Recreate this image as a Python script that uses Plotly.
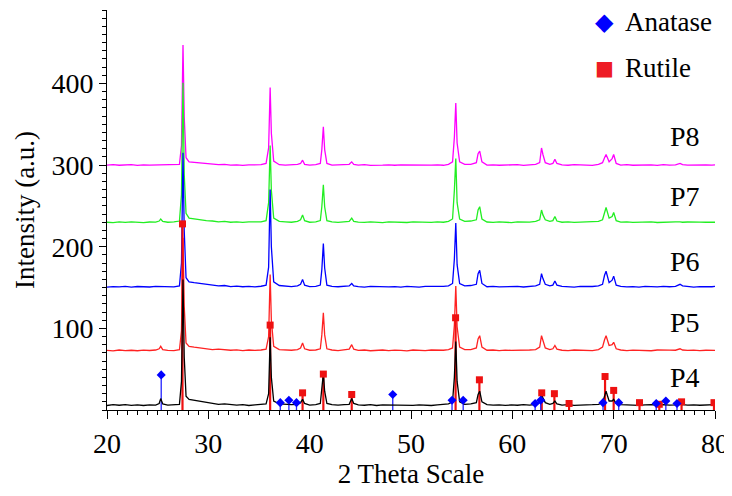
import plotly.graph_objects as go

# shared 2-theta grid (deg)
two_theta = [
    20.0, 20.6, 21.2, 21.8, 22.4, 23.0, 23.6, 24.2, 24.8,
    25.15, 25.3, 25.5,
    26.0, 26.6, 27.15,
    27.35, 27.5, 27.62, 27.8,
    28.1, 28.6, 29.2, 29.8, 30.4, 31.0, 31.6, 32.2, 32.8, 33.4, 34.0, 34.6, 35.2, 35.7,
    35.95, 36.1, 36.22, 36.45,
    37.0, 37.6, 38.2, 38.8,
    39.1, 39.3, 39.5,
    40.0, 40.6, 41.05,
    41.2, 41.35, 41.48, 41.7,
    42.2, 42.8, 43.4, 43.9,
    44.15, 44.35,
    44.8, 45.4, 46.0, 46.6, 47.2, 47.8, 48.4, 49.0, 49.6, 50.2, 50.8, 51.4, 52.0, 52.6, 53.2, 53.7, 54.1,
    54.28, 54.42, 54.55, 54.8,
    55.3, 55.9, 56.45,
    56.62, 56.78, 57.0,
    57.5, 58.1, 58.7, 59.3, 59.9, 60.5, 61.1, 61.7, 62.3, 62.7,
    62.88, 63.02, 63.25,
    63.7, 64.0,
    64.2, 64.4,
    64.9, 65.5, 66.1, 66.7, 67.3, 67.9, 68.5, 68.9,
    69.1, 69.25, 69.55,
    69.85, 70.0, 70.25,
    70.7, 71.3, 71.9, 72.5, 73.1, 73.7, 74.3, 74.9, 75.5, 76.1,
    76.55, 76.8,
    77.3, 77.9, 78.5, 79.1, 79.7, 80.0,
]

# intensities above each pattern's own baseline
p4 = [
    0.5, 1.5, 0.8, 1.6, 0.7, 1.2, 0.5, 1.4, 1.0,
    3, 9, 2.5,
    1.0, 1.5, 2.0,
    30, 155, 60, 12,
    8, 7, 5.5, 4.5, 3, 2, 2.5, 1.5, 1, 1.5, 0.5, 1.2, 1.5, 2.5,
    15, 84, 35, 6,
    2.5, 2, 1.5, 2,
    4, 8, 3,
    1, 1.5, 3,
    18, 40, 18, 3,
    1.5, 1, 1.5, 2,
    9, 3,
    1.2, 0.8, 1.5, 0.5, 1.2, 1, 1.6, 0.8, 1.2, 0.6, 1.4, 1, 0.5, 1.2, 1.6, 2.5, 5,
    35, 79, 30, 5,
    2, 2.5, 4,
    14, 18, 5,
    1.5, 1, 1.4, 0.6, 1.2, 0.8, 1.5, 1, 2, 4,
    14, 10, 4,
    2, 3,
    6, 2.5,
    1, 1.5, 0.6, 1.2, 1, 1.5, 2, 4,
    12, 18, 6,
    6, 8, 3,
    1.5, 1, 1.3, 0.7, 1.2, 1.5, 0.8, 1.6, 1, 1.3,
    2.5, 1.5,
    1, 1.4, 0.8, 1.2, 1, 1.5,
]
p5 = [
    1, 0.5, 1.5, 0.8, 1.2, 0.6, 1.4, 0.9, 1.5,
    3, 6, 2,
    1, 0.8, 1.8,
    25, 139, 55, 10,
    6, 5, 4, 3, 2, 2.5, 1.5, 1.2, 1.6, 0.8, 1.5, 1, 1.5, 2.5,
    18, 94, 38, 6,
    2, 1.5, 1.2, 2,
    4, 10, 3,
    1.2, 1.5, 3,
    20, 47, 20, 3,
    1.5, 0.8, 1.4, 2.5,
    8, 2.5,
    1, 1.5, 0.6, 1.2, 1.5, 0.8, 1.4, 1, 0.5, 1.5, 1.1, 0.7, 1.5, 1, 1.2, 2, 4,
    32, 80, 30, 5,
    2, 2, 4,
    15, 19, 5,
    1.2, 1.5, 0.8, 1.4, 1, 1.2, 0.6, 1.5, 2, 5,
    19, 12, 4,
    2, 3,
    7, 2.5,
    1.2, 0.8, 1.5, 1, 1.4, 0.8, 2, 5,
    14, 19, 7,
    8, 11, 3,
    1.5, 0.8, 1.4, 1, 1.2, 0.6, 1.5, 1, 1.4, 1.2,
    3, 1.5,
    1, 1.4, 0.8, 1.2, 1.5, 1,
]
p6 = [
    0.5, 1.2, 0.8, 1.5, 0.6, 1.3, 1, 0.7, 1.4,
    1.2, 1.5, 1,
    1.5, 0.8, 2,
    30, 165, 70, 12,
    7, 6, 5, 4, 3, 2, 2.5, 1.2, 1.8, 1, 1.5, 0.8, 1.6, 3,
    25, 120, 50, 7,
    2.5, 1.5, 1.2, 2,
    4, 10, 3,
    1.2, 1.5, 3,
    22, 54, 24, 3,
    1.5, 1, 1.6, 2,
    5, 2,
    1.2, 0.6, 1.4, 1, 1.5, 0.8, 1.2, 0.5, 1.4, 1, 0.6, 1.5, 1.2, 0.8, 1.4, 2, 5,
    35, 79, 28, 5,
    2, 2.5, 4,
    17, 21, 5,
    1, 1.5, 0.8, 1.3, 1, 1.5, 0.7, 1.2, 2, 4,
    17, 11, 4,
    2, 3,
    8, 3,
    1.4, 1, 0.6, 1.5, 1, 1.3, 2, 4,
    15, 20, 6,
    9, 14, 3,
    1.5, 0.8, 1.2, 0.5, 1.4, 1, 0.8, 1.5, 1, 1.5,
    4, 2,
    1, 0.6, 1.2, 0.8, 1, 1.5,
]
p7 = [
    1, 0.6, 1.4, 0.8, 1.5, 1, 0.5, 1.3, 1.2,
    2.5, 5, 2,
    1, 1.5, 2.5,
    35, 172, 60, 12,
    6, 5, 4, 3, 2.5, 1.5, 2, 1, 1.5, 0.8, 1.4, 1, 1.5, 3,
    25, 95, 40, 6,
    2, 1.5, 1, 2,
    4, 10, 3,
    1, 1.5, 3,
    20, 47, 20, 3,
    1.5, 0.8, 1.2, 2,
    6, 2,
    1.2, 0.8, 1.5, 1, 0.6, 1.4, 1, 1.3, 0.7, 1.5, 1, 1.2, 0.8, 1.5, 1, 2, 5,
    40, 79, 25, 5,
    2, 2.5, 4,
    16, 20, 5,
    1.3, 0.8, 1.5, 1, 0.6, 1.4, 1, 1.2, 2, 4,
    16, 10, 4,
    2, 3,
    8, 2.5,
    1, 1.4, 0.8, 1.2, 1.5, 1, 2, 4,
    14, 19, 6,
    8, 13, 3,
    1.2, 1.5, 0.8, 1.3, 1, 1.4, 0.7, 1.2, 1, 1.5,
    1.5, 1,
    1.3, 0.8, 1.2, 1, 1.4, 1,
]
p8 = [
    1, 1.5, 0.8, 1.2, 1.5, 0.6, 1.4, 1, 1.2,
    1.2, 1.5, 1,
    1, 1.4, 2,
    25, 148, 60, 10,
    5, 4.5, 3.5, 3, 2, 1.5, 2, 1, 1.4, 0.6, 1.2, 1, 1.5, 3,
    22, 96, 40, 6,
    1.5, 1, 1.2, 2,
    3, 7, 2,
    1, 1.5, 3,
    20, 48, 20, 3,
    1, 1.5, 1.2, 2,
    5, 2,
    1, 1.5, 0.6, 1.2, 1, 1.4, 0.8, 1.2, 1, 1.5, 0.7, 1.2, 1, 1.4, 0.8, 2, 5,
    35, 77, 28, 5,
    2, 2, 4,
    15, 18, 5,
    1, 1.4, 0.8, 1.2, 1, 1.5, 0.6, 1.2, 2, 4,
    22, 14, 4,
    2, 3,
    8, 3,
    1.2, 0.8, 1.5, 1, 1.2, 0.6, 2, 4,
    10, 14, 5,
    9, 14, 3,
    1, 1.5, 0.8, 1.2, 1, 1.3, 0.7, 1.5, 1, 1.2,
    3, 1.5,
    1, 1.3, 0.8, 1.2, 1, 1.4,
]

names = ["P8", "P7", "P6", "P5", "P4"]
patterns = [p8, p7, p6, p5, p4]
baselines = [299, 229, 150, 72, 5]
colors = ["#ff00ff", "#22ee22", "#0000ff", "#ff2222", "#000000"]
label_y = [335, 261, 182, 107, 40]

# reference patterns (stick positions and heights)
anatase_pos = [25.35, 37.1, 37.95, 38.7, 48.2, 54.05, 55.15, 62.25, 62.8, 68.95, 70.5, 74.2, 75.15, 76.25]
anatase_int = [43, 9, 12, 9, 19, 12, 12, 8, 12, 9, 9, 8, 11, 8]
rutile_pos = [27.45, 36.1, 39.3, 41.35, 44.15, 54.4, 56.75, 62.9, 64.15, 65.6, 69.15, 70.0, 72.55, 74.5, 76.7, 79.9]
rutile_int = [228, 104, 21, 44, 19, 113, 37, 21, 20, 8, 41, 24, 9, 7, 10, 9]

legend_names = ["Anatase", "Rutile"]
legend_symbols = ["\u25c6", "\u25a0"]
legend_colors = ["#0000ff", "#ee1c25"]

FONT = "Liberation Serif, Times New Roman, serif"


def sticks(pos, hts):
    xs, ys = [], []
    for p, h in zip(pos, hts):
        xs += [p, p, None]
        ys += [0, h, None]
    return xs, ys


fig = go.Figure()

for name, rel, base, col in zip(names[:4], patterns[:4], baselines[:4], colors[:4]):
    fig.add_trace(go.Scatter(x=two_theta, y=[v + base for v in rel], mode="lines",
                             line=dict(color=col, width=1.3), name=name))

sx, sy = sticks(rutile_pos, rutile_int)
fig.add_trace(go.Scatter(x=sx, y=sy, mode="lines", line=dict(color="#ee1111", width=2.2),
                         hoverinfo="skip"))
sx, sy = sticks(anatase_pos, anatase_int)
fig.add_trace(go.Scatter(x=sx, y=sy, mode="lines", line=dict(color="#2222ff", width=1.3),
                         hoverinfo="skip"))

fig.add_trace(go.Scatter(x=two_theta, y=[v + baselines[4] for v in p4], mode="lines",
                         line=dict(color="#000000", width=1.3), name="P4"))

fig.add_trace(go.Scatter(x=rutile_pos, y=rutile_int, mode="markers", name="Rutile",
                         marker=dict(symbol="square", size=7, color="#ee1111")))
fig.add_trace(go.Scatter(x=anatase_pos, y=anatase_int, mode="markers", name="Anatase",
                         marker=dict(symbol="diamond", size=7, color="#0000ff")))

for name, ly in zip(names, label_y):
    fig.add_annotation(x=77.0, y=ly, text=name, showarrow=False,
                       font=dict(family=FONT, size=28, color="black"))

# hand-made legend in the top right corner
sym_sizes = [24, 20]
for i, (lname, sym, col) in enumerate(zip(legend_names, legend_symbols, legend_colors)):
    ypos = 0.97 - i * 0.115
    fig.add_annotation(xref="paper", yref="paper", x=0.8175, y=ypos, text=sym, showarrow=False,
                       xanchor="center", yanchor="middle",
                       font=dict(family="DejaVu Sans", size=sym_sizes[i], color=col))
    fig.add_annotation(xref="paper", yref="paper", x=0.848, y=ypos, text=lname, showarrow=False,
                       xanchor="left", yanchor="middle",
                       font=dict(family=FONT, size=27, color="black"))

# page body adds an 8px offset, so the figure is drawn 8px smaller
fig.update_layout(
    width=724, height=488,
    margin=dict(l=99, r=17, t=2, b=86, autoexpand=False),
    plot_bgcolor="white", paper_bgcolor="white",
    font=dict(family=FONT, size=28, color="black"),
    showlegend=False,
)
fig.update_xaxes(range=[20, 80], tickvals=[20, 30, 40, 50, 60, 70, 80],
                 showgrid=False, zeroline=False, showline=True, linecolor="black", linewidth=1,
                 ticks="outside", ticklen=8, tickcolor="black",
                 minor=dict(tickmode="linear", tick0=20, dtick=1, ticks="outside", ticklen=4, tickcolor="black"),
                 title=dict(text="2 Theta Scale", standoff=6, font=dict(family=FONT, size=27)),
                 automargin=False)
fig.update_yaxes(range=[0, 490], tickvals=[100, 200, 300, 400],
                 showgrid=False, zeroline=False, showline=True, linecolor="black", linewidth=1,
                 ticks="outside", ticklen=7, tickcolor="black",
                 minor=dict(tickmode="linear", tick0=0, dtick=10, ticks="outside", ticklen=4, tickcolor="black"),
                 title=dict(text="Intensity (a.u.)", standoff=8, font=dict(family=FONT, size=27)),
                 automargin=False)

fig.write_html("out.html")
